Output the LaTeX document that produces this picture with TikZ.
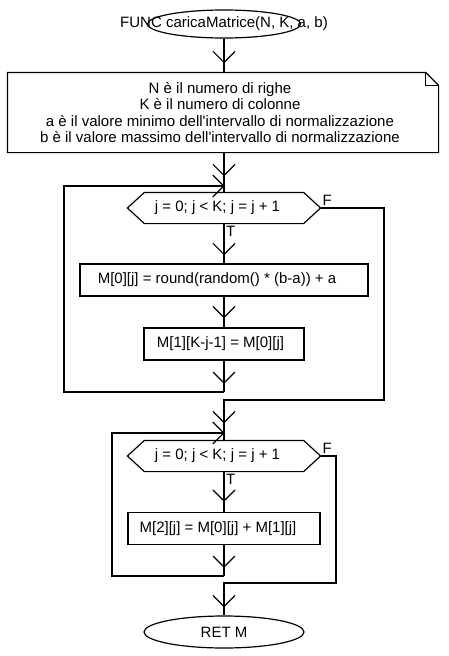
\documentclass[tikz,border=0pt]{standalone}
\usepackage{fontspec}
\setmainfont{Liberation Sans}
\usetikzlibrary{shapes.geometric,decorations.markings}
\begin{document}
\begin{tikzpicture}[x=1pt,y=-1pt,line width=1.2pt,
  every node/.style={font=\fontsize{15}{16.3}\selectfont},
  box/.style={draw,rectangle,inner sep=0pt},
  term/.style={draw,ellipse,inner sep=0pt},
  plain/.style={inner sep=0pt},
  lbl/.style={inner sep=1.5pt},
  vat/.style={postaction={decorate},decoration={markings,mark=at position #1 with {\draw[line width=1.2pt] (-11pt,-11pt) -- (0pt,0pt) -- (-11pt,11pt);}}}
]
\useasboundingbox (0,0) rectangle (448,656);

% start
\node[term,minimum width=153pt,minimum height=28pt] (start) at (224,24) {};
\node[plain] (starttxt) at (start.center) {FUNC caricaMatrice(N, K, a, b)};

% note
\node[plain,minimum width=430pt,minimum height=79pt,align=center] (note) at (223,112.5)
  {\hspace*{-6pt}N è il numero di righe\\\hspace*{-6pt}K è il numero di colonne\\\hspace*{-6pt}a è il valore minimo dell\textquotesingle intervallo di normalizzazione\\\hspace*{-6pt}b è il valore massimo dell\textquotesingle intervallo di normalizzazione};
\draw (note.north west) -- ([xshift=-13pt]note.north east) -- ([yshift=-13pt]note.north east) -- (note.south east) -- (note.south west) -- cycle;
\draw ([xshift=-13pt]note.north east) -- ([xshift=-13pt,yshift=-13pt]note.north east) -- ([yshift=-13pt]note.north east);

% loop 1
\node[plain,minimum width=192pt,minimum height=30pt] (h1) at (224,208) {\hspace*{-13pt}j = 0; j < K; j = j + 1};
\draw ([xshift=17pt]h1.north west) -- ([xshift=-17pt]h1.north east) -- (h1.east) -- ([xshift=-17pt]h1.south east) -- ([xshift=17pt]h1.south west) -- (h1.west) -- cycle;
\node[box,minimum width=288pt,minimum height=32pt] (b1) at (224,280) {\hspace*{-14pt}M[0][j] = round(random() * (b-a)) + a};
\node[box,minimum width=160pt,minimum height=32pt] (b2) at (224,344) {\hspace*{-7pt}M[1][K-j-1] = M[0][j]};

% loop 2
\node[plain,minimum width=192pt,minimum height=30pt] (h2) at (224,456) {\hspace*{-13pt}j = 0; j < K; j = j + 1};
\draw ([xshift=17pt]h2.north west) -- ([xshift=-17pt]h2.north east) -- (h2.east) -- ([xshift=-17pt]h2.south east) -- ([xshift=17pt]h2.south west) -- (h2.west) -- cycle;
\node[box,minimum width=192pt,minimum height=32pt] (b3) at (224,528.5) {\hspace*{-12pt}M[2][j] = M[0][j] + M[1][j]};

% end
\node[term,minimum width=160pt,minimum height=32pt] (stop) at (224,632) {RET M};

% labels
\node[lbl,anchor=south west] (f1) at (h1.east) {F};
\node[lbl,anchor=north west] (t1) at (h1.south) {T};
\node[lbl,anchor=south west] (f2) at (h2.east) {F};
\node[lbl,anchor=north west] (t2) at (h2.south) {T};

% coordinates
\coordinate (j1) at (224,186);
\coordinate (l1a) at (224,392);
\coordinate (l1b) at (64,392);
\coordinate (l1c) at (64,186);
\coordinate (f1a) at (384,208);
\coordinate (f1b) at (384,400);
\coordinate (f1c) at (224,400);
\coordinate (j2) at (224,433);
\coordinate (l2a) at (224,576);
\coordinate (l2b) at (112,576);
\coordinate (l2c) at (112,433);
\coordinate (f2a) at (336,456);
\coordinate (f2b) at (336,583);
\coordinate (f2c) at (224,583);

% connectors
\draw[vat=-10pt] (start.south) -- (start.south |- note.north);
\draw[vat=-17pt] (j1 |- note.south) -- (h1.north);
\draw[vat=-9pt] (h1.south) -- (b1.north);
\draw[vat=-10pt] (b1.south) -- (b2.north);
\draw[vat=-9pt] (b2.south) -- (l1a);
\draw[vat=-0.2pt] (l1a) -- (l1b) -- (l1c) -- (j1);
\draw[vat=-18pt] (h1.east) -- (f1a) -- (f1b) -- (f1c) -- (h2.north);
\draw[vat=-11pt] (h2.south) -- (b3.north);
\draw[vat=-9pt] (b3.south) -- (l2a);
\draw[vat=-0.2pt] (l2a) -- (l2b) -- (l2c) -- (j2);
\draw[vat=-9pt] (h2.east) -- (f2a) -- (f2b) -- (f2c) -- (stop.north);
\end{tikzpicture}
\end{document}
